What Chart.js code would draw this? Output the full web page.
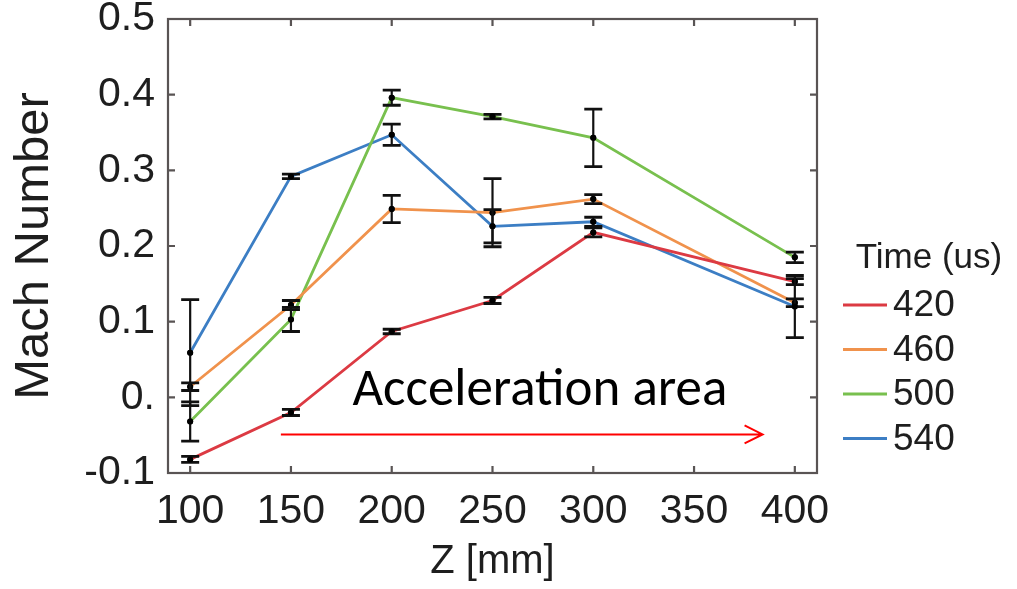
<!DOCTYPE html>
<html>
<head>
<meta charset="utf-8">
<script src="https://cdn.jsdelivr.net/npm/chart.js@4.4.1/dist/chart.umd.min.js"></script>
<style>
  html, body { margin: 0; padding: 0; background: #ffffff; }
  #wrap { width: 1017px; height: 589px; }
</style>
</head>
<body>
<div id="wrap"><canvas id="c" width="1017" height="589"></canvas></div>
<script>
// ---- data ----
const zPositions = [100, 150, 200, 250, 300, 400];          // Z [mm]
const xTickValues = [100, 150, 200, 250, 300, 350, 400];
const yTickLabels = ['-0.1', '0.', '0.1', '0.2', '0.3', '0.4', '0.5'];

const seriesLabels = ['420', '460', '500', '540'];             // Time (us)

const mach420 = [-0.082, -0.020, 0.087, 0.128, 0.218, 0.153];
const err420  = [0.004, 0.004, 0.003, 0.004, 0.006, 0.004];

const mach460 = [0.014, 0.122, 0.249, 0.244, 0.262, 0.125];
const err460  = [0.005, 0.006, 0.018, 0.045, 0.006, 0.005];

const mach500 = [-0.032, 0.103, 0.396, 0.371, 0.343, 0.185];
const err500  = [0.026, 0.016, 0.010, 0.003, 0.038, 0.007];

const mach540 = [0.059, 0.292, 0.347, 0.226, 0.232, 0.120];
const err540  = [0.070, 0.003, 0.014, 0.022, 0.006, 0.041];

// annotation (in data units)
const annotationText = 'Acceleration area';
const annotationTextPos = { x: 273.5, y: 0.008 };
const arrowFromX = 145, arrowToX = 384, arrowY = -0.049;

// ---- styles ----
const colors = ['#dc3a43', '#f0924c', '#78c04e', '#3c7ec4'];
const textColor = '#1e1e1e';
const frameColor = '#595454';

const allValues = [mach420, mach460, mach500, mach540];
const allErrors = [err420, err460, err500, err540];

const datasets = allValues.map((vals, i) => ({
  label: seriesLabels[i],
  data: zPositions.map((z, k) => ({ x: z, y: vals[k] })),
  errors: allErrors[i],
  borderColor: colors[i],
  backgroundColor: colors[i],
  borderWidth: 2.8,
  tension: 0,
  pointRadius: 3,
  pointBackgroundColor: '#000',
  pointBorderColor: '#000',
  pointBorderWidth: 0
}));

const errorBarPlugin = {
  id: 'errorBars',
  afterDatasetsDraw(chart) {
    const { ctx, scales: { x, y } } = chart;
    ctx.save();
    ctx.strokeStyle = '#111';
    chart.data.datasets.forEach(ds => {
      ds.data.forEach((p, k) => {
        const e = ds.errors[k];
        const px = x.getPixelForValue(p.x);
        const top = y.getPixelForValue(p.y + e);
        const bot = y.getPixelForValue(p.y - e);
        ctx.lineWidth = 2.2;
        ctx.beginPath();
        ctx.moveTo(px, top); ctx.lineTo(px, bot);
        ctx.stroke();
        ctx.lineWidth = 2.8;
        ctx.beginPath();
        ctx.moveTo(px - 9, top); ctx.lineTo(px + 9, top);
        ctx.moveTo(px - 9, bot); ctx.lineTo(px + 9, bot);
        ctx.stroke();
        ctx.fillStyle = '#000';
        ctx.beginPath();
        ctx.arc(px, y.getPixelForValue(p.y), 3, 0, Math.PI * 2);
        ctx.fill();
      });
    });
    ctx.restore();
  }
};

const framePlugin = {
  id: 'frame',
  afterDraw(chart) {
    const { ctx, chartArea: a, scales: { x, y } } = chart;
    ctx.save();
    ctx.strokeStyle = frameColor;
    ctx.lineWidth = 2.2;
    ctx.strokeRect(a.left, a.top, a.right - a.left, a.bottom - a.top);
    const tl = 7;
    ctx.beginPath();
    x.ticks.forEach(t => {
      const px = x.getPixelForValue(t.value);
      ctx.moveTo(px, a.bottom); ctx.lineTo(px, a.bottom - tl);
      ctx.moveTo(px, a.top); ctx.lineTo(px, a.top + tl);
    });
    y.ticks.forEach(t => {
      const py = y.getPixelForValue(t.value);
      ctx.moveTo(a.left, py); ctx.lineTo(a.left + tl, py);
      ctx.moveTo(a.right, py); ctx.lineTo(a.right - tl, py);
    });
    ctx.stroke();

    // annotation text
    ctx.fillStyle = '#000';
    ctx.font = '53px Calibri, Carlito, Lato, sans-serif';
    ctx.textAlign = 'center';
    ctx.textBaseline = 'middle';
    ctx.fillText(annotationText, x.getPixelForValue(annotationTextPos.x), y.getPixelForValue(annotationTextPos.y));

    // arrow
    const x0 = x.getPixelForValue(arrowFromX), x1 = x.getPixelForValue(arrowToX), ay = y.getPixelForValue(arrowY);
    ctx.strokeStyle = '#ff0000';
    ctx.lineWidth = 2;
    ctx.beginPath();
    ctx.moveTo(x0, ay); ctx.lineTo(x1, ay);
    ctx.moveTo(x1 - 18, ay - 9); ctx.lineTo(x1, ay); ctx.lineTo(x1 - 18, ay + 9);
    ctx.stroke();

    // legend
    const lx = a.right + 26;
    ctx.fillStyle = textColor;
    ctx.font = '35px "Liberation Sans", Arial, sans-serif';
    ctx.textAlign = 'center';
    ctx.fillText('Time (us)', a.right + 112, 258);
    ctx.textAlign = 'left';
    ctx.font = '37px "Liberation Sans", Arial, sans-serif';
    chart.data.datasets.forEach((ds, i) => {
      const ly = 305 + i * 44.5;
      ctx.strokeStyle = ds.borderColor;
      ctx.lineWidth = 2.8;
      ctx.beginPath();
      ctx.moveTo(lx, ly); ctx.lineTo(lx + 44, ly);
      ctx.stroke();
      ctx.fillStyle = textColor;
      ctx.fillText(ds.label, lx + 50, ly + 1);
    });
    ctx.restore();
  }
};

new Chart(document.getElementById('c'), {
  type: 'line',
  data: { datasets },
  options: {
    responsive: false,
    animation: false,
    layout: { padding: { left: 0, right: 200, top: 19, bottom: 0 } },
    plugins: { legend: { display: false }, tooltip: { enabled: false } },
    scales: {
      x: {
        type: 'linear',
        min: 89, max: 411,
        afterBuildTicks: s => { s.ticks = xTickValues.map(v => ({ value: v })); },
        afterFit: s => { s.height = 116; s.paddingLeft = 0; s.paddingRight = 0; },
        grid: { display: false, drawTicks: false },
        border: { display: false },
        ticks: {
          color: textColor,
          padding: 14,
          font: { family: '"Liberation Sans", Arial, sans-serif', size: 41 },
          callback: v => String(v)
        },
        title: {
          display: true,
          text: 'Z [mm]',
          color: textColor,
          padding: { top: 0, bottom: 3 },
          font: { family: '"Liberation Sans", Arial, sans-serif', size: 40 }
        }
      },
      y: {
        type: 'linear',
        min: -0.1, max: 0.5,
        ticks: {
          stepSize: 0.1,
          color: textColor,
          padding: 13,
          font: { family: '"Liberation Sans", Arial, sans-serif', size: 41 },
          callback: (v, i) => yTickLabels[i]
        },
        afterFit: s => { s.width = 168; s.paddingTop = 0; s.paddingBottom = 0; },
        grid: { display: false, drawTicks: false },
        border: { display: false },
        title: {
          display: true,
          text: 'Mach Number',
          color: textColor,
          padding: { top: 5, bottom: 0 },
          font: { family: '"Liberation Sans", Arial, sans-serif', size: 49 }
        }
      }
    }
  },
  plugins: [errorBarPlugin, framePlugin]
});
</script>
</body>
</html>
